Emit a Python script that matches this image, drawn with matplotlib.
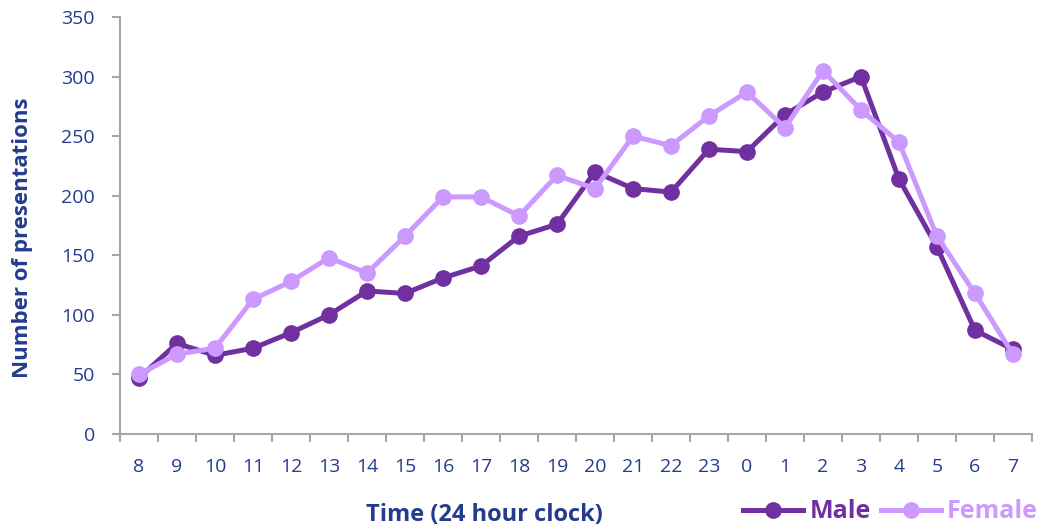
import matplotlib.pyplot as plt
import numpy as np

plt.rcParams["font.family"] = ["Open Sans", "DejaVu Sans"]

hours = ["8", "9", "10", "11", "12", "13", "14", "15", "16", "17", "18", "19",
         "20", "21", "22", "23", "0", "1", "2", "3", "4", "5", "6", "7"]
male = [47, 76, 66, 72, 85, 100, 120, 118, 131, 141, 166, 176,
        220, 206, 203, 239, 237, 268, 287, 300, 214, 157, 87, 71]
female = [50, 67, 72, 113, 128, 148, 135, 166, 199, 199, 183, 217,
          206, 250, 242, 267, 287, 257, 305, 272, 245, 166, 118, 67]

TEXT = "#233C8E"
GRID = "#A6A6A6"
MALE_C = "#7030A0"
FEMALE_C = "#CC99FF"

fig = plt.figure(figsize=(10.48, 5.31), dpi=100)
ax = fig.add_axes([0.1145, 0.1827, 0.8702, 0.7853])

x = np.arange(len(hours))
ax.plot(x, male, color=MALE_C, lw=3.6, marker="o", ms=11, label="Male")
ax.plot(x, female, color=FEMALE_C, lw=3.6, marker="o", ms=11, label="Female")

ax.set_xlim(-0.5, len(hours) - 0.5)
ax.set_ylim(0, 350)
ax.set_yticks(range(0, 351, 50))
ax.set_xticks(x)
ax.set_xticklabels(hours)
ax.set_xticks(np.arange(-0.5, len(hours), 1), minor=True)
ax.tick_params(axis="x", which="major", length=0, pad=17, labelsize=14, labelcolor=TEXT)
ax.tick_params(axis="x", which="minor", length=6, width=1.5, color=GRID, direction="out")
ax.tick_params(axis="y", length=6, width=1.5, color=GRID, labelsize=14, labelcolor=TEXT, pad=12)

for s in ["top", "right"]:
    ax.spines[s].set_visible(False)
for s in ["left", "bottom"]:
    ax.spines[s].set_color(GRID)
    ax.spines[s].set_linewidth(1.5)

ax.set_ylabel("Number of presentations", fontsize=16, fontweight="bold", color=TEXT)
ax.yaxis.set_label_coords(-0.095, 0.47)
fig.text(0.462, 0.03, "Time (24 hour clock)", fontsize=17, fontweight="bold",
         color=TEXT, ha="center", va="center")

leg = fig.legend(loc="lower right", bbox_to_anchor=(1.012, -0.03), ncol=2, frameon=False,
                 handlelength=2.4, columnspacing=0.4, handletextpad=0.25,
                 prop={"size": 18, "weight": "bold"})
for t, c in zip(leg.get_texts(), [MALE_C, FEMALE_C]):
    t.set_color(c)

fig.savefig("out.png", dpi=100)
